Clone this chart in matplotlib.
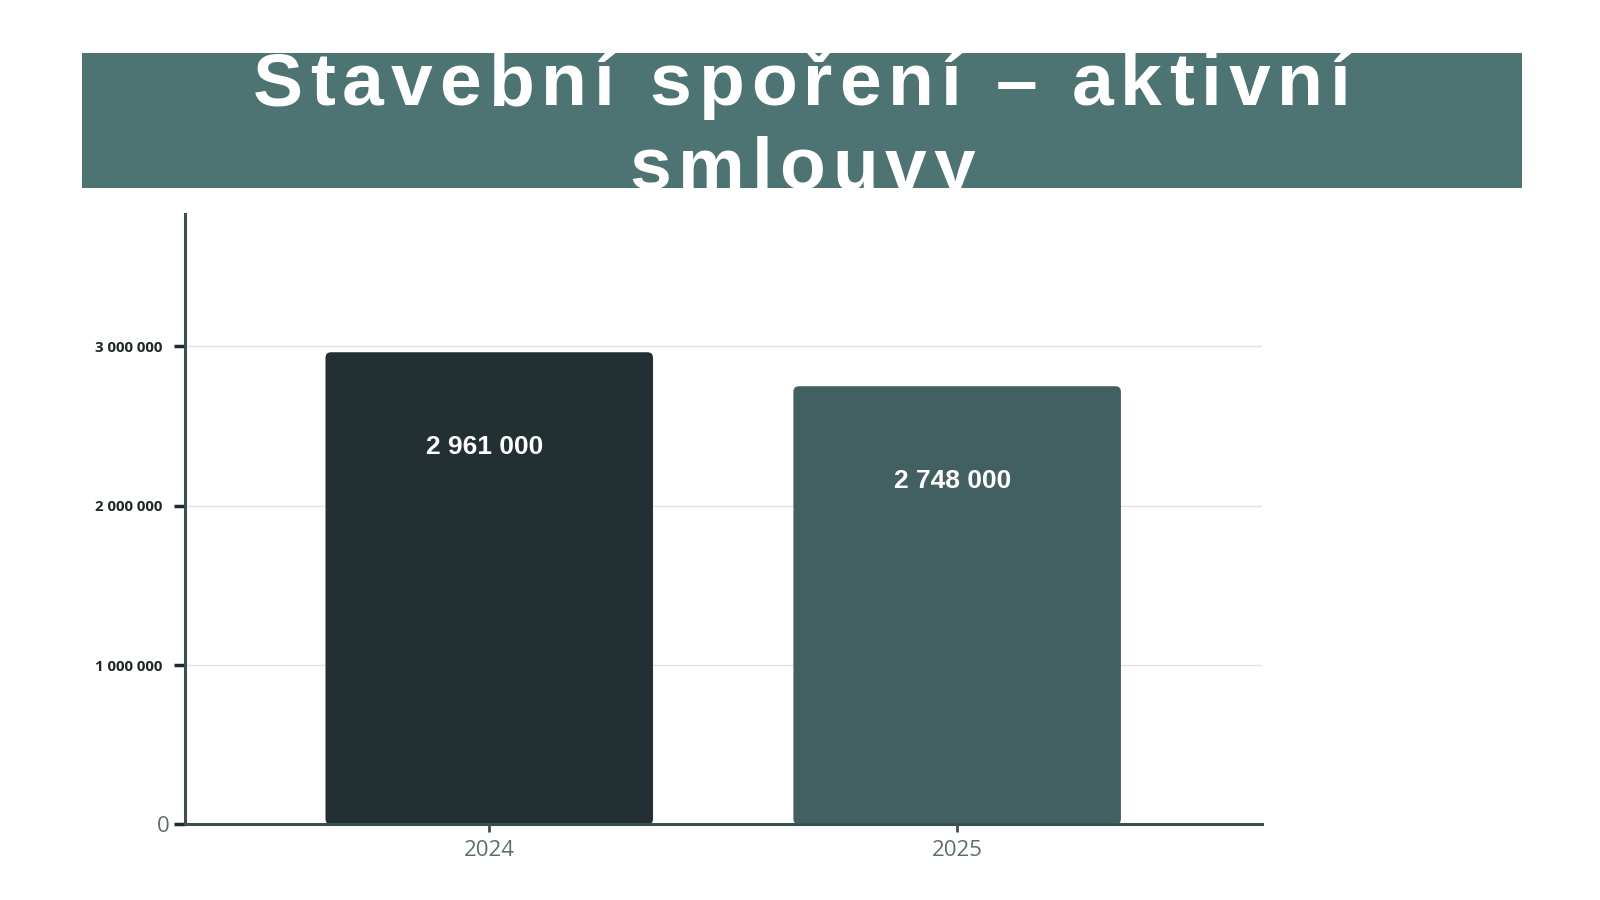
import matplotlib
matplotlib.use("Agg")
import matplotlib.pyplot as plt
import matplotlib.transforms as mtransforms
from matplotlib.patches import Rectangle, FancyBboxPatch

TITLE_LINES = ["Stavební spoření – aktivní", "smlouvy"]
YEARS = ["2024", "2025"]
CONTRACTS = [2961000, 2748000]
VALUE_LABELS = ["2 961 000", "2 748 000"]
Y_TICKS = [0, 1000000, 2000000, 3000000]
Y_TICK_LABELS = ["0", "1 000 000", "2 000 000", "3 000 000"]

BAR_COLORS = ["#223033", "#426061"]
BANNER = "#4e7373"
AXIS = "#3b5050"

YMAX = 3.826e6
XLIM = (-0.651, 1.652)

fig = plt.figure(figsize=(16, 9), dpi=100)
fig.patch.set_facecolor("white")

# title banner, text is clipped to it like in the original
banner = Rectangle((0.051, 0.7914), 0.900, 0.1496, transform=fig.transFigure,
                   facecolor=BANNER, edgecolor="none", zorder=0)
fig.patches.append(banner)

title_font = ["Liberation Sans Narrow", "Liberation Sans", "DejaVu Sans"]


def tracked_text(s, xc, y, size, track_px):
    r = fig.canvas.get_renderer()
    widths = []
    for ch in s:
        t = fig.text(0, 0, ch.replace(" ", "-"), fontsize=size, fontweight="bold",
                     family=title_font)
        w = t.get_window_extent(r).width
        t.remove()
        widths.append(w if ch != " " else w * 0.8)
    total = sum(widths) + track_px * (len(s) - 1)
    x = xc * fig.bbox.width - total / 2
    for ch, w in zip(s, widths):
        if ch != " ":
            t = fig.text(x / fig.bbox.width, y, ch, fontsize=size, fontweight="bold",
                         family=title_font, color="white", va="baseline", ha="left")
            t.set_clip_path(banner)
        x += w + track_px


tracked_text(TITLE_LINES[0], 0.5013, 0.8832, 54, 7)
tracked_text(TITLE_LINES[1], 0.5013, 0.789, 54, 7)

ax = fig.add_axes([0.1154, 0.0839, 0.6735, 0.678])
x = list(range(len(YEARS)))
bars = ax.bar(x, CONTRACTS, width=0.70, color=BAR_COLORS, zorder=2)

ax.set_xlim(*XLIM)
ax.set_ylim(0, YMAX)

# swap plain bars for slightly rounded ones
px_w = ax.bbox.width / (XLIM[1] - XLIM[0])
px_h = ax.bbox.height / YMAX
for b, c in zip(bars, BAR_COLORS):
    b.set_visible(False)
    fb = FancyBboxPatch((b.get_x(), 0), b.get_width(), b.get_height(),
                        boxstyle="round,pad=0,rounding_size=0.012",
                        mutation_aspect=px_w / px_h,
                        facecolor=c, edgecolor="none", zorder=2)
    ax.add_patch(fb)

for xi, v, lab in zip(x, CONTRACTS, VALUE_LABELS):
    ax.annotate(lab, (xi, v), xytext=(-3, -68), textcoords="offset points",
                ha="center", va="center", color="white", fontsize=19,
                fontweight="bold", family=["Liberation Sans", "DejaVu Sans"], zorder=3)

ax.set_yticks(Y_TICKS)
ax.set_yticklabels(Y_TICK_LABELS)
ax.set_xticks(x)
ax.set_xticklabels(YEARS)

ax.grid(axis="y", color="#e2e2e2", linewidth=1, zorder=0)
ax.set_axisbelow(True)

for side in ["top", "right"]:
    ax.spines[side].set_visible(False)
for side in ["left", "bottom"]:
    ax.spines[side].set_color(AXIS)
    ax.spines[side].set_linewidth(2.2)

ax.tick_params(axis="y", length=8, width=2.5, color="#1f2b2b", pad=8)
ax.tick_params(axis="x", length=6, width=2, color=AXIS, pad=5)

for i, t in enumerate(ax.get_yticklabels()):
    t.set_family(["Open Sans", "DejaVu Sans"])
    if i == 0:
        t.set_fontsize(16)
        t.set_color("#5d6e6e")
        t.set_transform(t.get_transform() + mtransforms.ScaledTranslation(
            5 / 72, 0, fig.dpi_scale_trans))
    else:
        t.set_fontsize(10.8)
        t.set_fontweight("bold")
        t.set_color("#1e2626")
for t in ax.get_xticklabels():
    t.set_fontsize(16)
    t.set_color("#5d6e6e")
    t.set_family(["Open Sans", "DejaVu Sans"])

fig.savefig("out.png", dpi=100)
